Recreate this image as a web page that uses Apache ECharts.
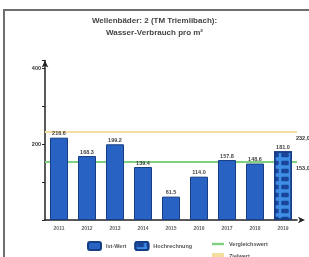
<!DOCTYPE html>
<html>
<head>
<meta charset="utf-8">
<script src="https://cdn.jsdelivr.net/npm/echarts@6/dist/echarts.min.js"></script>
<style>
  html, body { margin: 0; padding: 0; background: #fff; overflow: hidden; }
  #frame { position: absolute; left: 3px; top: 9px; width: 320px; height: 270px; border: 2px solid #6e6e6e; }
  #chart { position: absolute; left: 0; top: 0; width: 309px; height: 257px; }
</style>
</head>
<body>
<div id="frame"></div>
<div id="chart"></div>
<script>
// Jahre
const years = ["2011", "2012", "2013", "2014", "2015", "2016", "2017", "2018", "2019"];
// Ist-Werte (2019 nur als Hochrechnung)
const istWerte = [216.6, 168.3, 199.2, 139.4, 61.5, 114.0, 157.8, 148.6, "-"];
const hochrechnung = ["-", "-", "-", "-", "-", "-", "-", "-", 181.0];
const vergleichswert = 153.0;
const zielwert = 232.0;
const yTickLabels = ["200", "400"];

var myChart = echarts.init(document.getElementById("chart"));
var font = "Liberation Sans";

var option = {
  animation: false,
  textStyle: { fontFamily: font },
  title: {
    text: "Wellenbäder: 2 (TM Triemlibach):\nWasser-Verbrauch pro m²",
    left: "center",
    top: 10,
    textStyle: { fontSize: 8, fontWeight: "bold", color: "#444", lineHeight: 12, fontFamily: font }
  },
  legend: [
    {
      data: ["Ist-Wert", "Hochrechnung"],
      left: 82, top: 236, itemWidth: 13, itemHeight: 8, itemGap: 8,
      textStyle: { fontSize: 5.5, fontWeight: "bold", color: "#555" }
    },
    {
      data: [{ name: "Vergleichswert", icon: "path://M0,4 L10,4 L10,6 L0,6 Z" }],
      left: 207, top: 236, itemWidth: 12, itemHeight: 7,
      textStyle: { fontSize: 5.5, fontWeight: "bold", color: "#555" }
    },
    {
      data: [{ name: "Zielwert", icon: "rect" }],
      left: 207, top: 248, itemWidth: 12, itemHeight: 7,
      textStyle: { fontSize: 5.5, fontWeight: "bold", color: "#555" }
    }
  ],
  grid: { left: 45, top: 60.4, width: 252, height: 159.6 },
  xAxis: {
    type: "category",
    data: years,
    axisLine: { lineStyle: { color: "#222", width: 1.5 }, symbol: ["none", "arrow"], symbolSize: [5, 7], symbolOffset: [0, 8] },
    axisTick: { alignWithLabel: true, length: 3, lineStyle: { color: "#222" } },
    axisLabel: { fontSize: 5, fontWeight: "bold", color: "#666", margin: 6 }
  },
  yAxis: {
    type: "value",
    min: 0,
    max: 420,
    interval: 100,
    splitLine: { show: false },
    axisLine: { show: true, lineStyle: { color: "#222", width: 1.5 }, symbol: ["none", "arrow"], symbolSize: [5, 7] },
    axisTick: { show: true, length: 3, lineStyle: { color: "#222" } },
    axisLabel: {
      fontSize: 5.5, fontWeight: "bold", color: "#333", margin: 4,
      formatter: function (v) { return yTickLabels.indexOf(String(v)) >= 0 ? String(v) : ""; }
    }
  },
  series: [
    {
      name: "Ist-Wert",
      type: "bar",
      z: 3,
      data: istWerte,
      barWidth: 18,
      barGap: "-100%",
      itemStyle: { color: "#2862c2", borderColor: "#173d85", borderWidth: 1 },
      label: {
        show: true, position: "top", distance: 1, fontSize: 5.5, fontWeight: "bold", color: "#444",
        formatter: function (p) { return p.value.toFixed(1); }
      }
    },
    {
      name: "Hochrechnung",
      type: "bar",
      z: 3,
      data: hochrechnung,
      barWidth: 18,
      itemStyle: {
        color: "#3f8ee6", borderColor: "#173d85", borderWidth: 1.5,
        decal: { symbol: "roundRect", symbolSize: 0.75, color: "rgba(20,55,140,0.85)", dashArrayX: [[10, 0]], dashArrayY: [6, 2] }
      },
      label: {
        show: true, position: "top", distance: 1, fontSize: 5.5, fontWeight: "bold", color: "#444",
        formatter: function (p) { return p.value.toFixed(1); }
      }
    },
    {
      name: "Vergleichswert",
      type: "line",
      z: 1,
      data: [],
      itemStyle: { color: "#7fd07f" },
      lineStyle: { color: "#7fd07f" },
      markLine: {
        symbol: "none", silent: true, z: 1,
        lineStyle: { color: "#7fd07f", width: 2, type: "solid" },
        label: { position: "end", offset: [-6, 7], fontSize: 5.5, fontWeight: "bold", color: "#333", formatter: vergleichswert.toFixed(1).replace(".", ",") },
        data: [{ yAxis: vergleichswert }]
      }
    },
    {
      name: "Zielwert",
      type: "line",
      z: 1,
      data: [],
      itemStyle: { color: "#f3dea0" },
      lineStyle: { color: "#f3dea0" },
      markLine: {
        symbol: "none", silent: true, z: 1,
        lineStyle: { color: "#f3dea0", width: 2, type: "solid" },
        label: { position: "end", offset: [-6, 7], fontSize: 5.5, fontWeight: "bold", color: "#333", formatter: zielwert.toFixed(1).replace(".", ",") },
        data: [{ yAxis: zielwert }]
      }
    }
  ]
};

option && myChart.setOption(option);
</script>
</body>
</html>
